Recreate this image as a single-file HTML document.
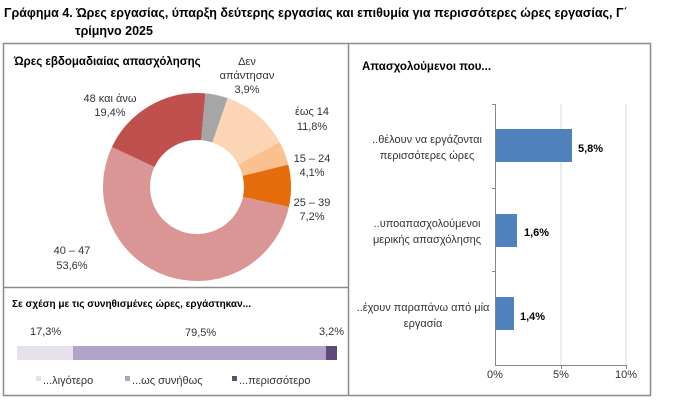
<!DOCTYPE html>
<html><head><meta charset="utf-8"><style>
body{margin:0;background:#fff;width:682px;height:413px;overflow:hidden;font-family:"Liberation Sans","DejaVu Sans",sans-serif;}
svg text{font-family:"Liberation Sans","DejaVu Sans",sans-serif;}
</style></head><body>
<svg width="682" height="413" viewBox="0 0 682 413" xmlns="http://www.w3.org/2000/svg">
<text x="4" y="17" font-size="12.5" font-weight="bold" fill="#000">Γράφημα 4. Ώρες εργασίας, ύπαρξη δεύτερης εργασίας και επιθυμία για περισσότερες ώρες εργασίας, Γ΄</text>
<text x="75" y="35" font-size="12.5" font-weight="bold" fill="#000">τρίμηνο 2025</text>
<rect x="3.5" y="43.5" width="647" height="352" fill="none" stroke="#8c8c8c" stroke-width="1.5"/>
<line x1="348.5" y1="43" x2="348.5" y2="396" stroke="#8c8c8c" stroke-width="1.5"/>
<line x1="3" y1="287.5" x2="348" y2="287.5" stroke="#8c8c8c" stroke-width="1.5"/>
<text x="14" y="65" font-size="11.5" font-weight="bold">Ώρες εβδομαδιαίας απασχόλησης</text>
<g transform="rotate(-71 197 187)" fill="none" stroke-width="47">
<circle cx="197" cy="187" r="70.5" stroke="#fcd5b5" stroke-dasharray="52.27 500" stroke-dashoffset="0"/>
<circle cx="197" cy="187" r="70.5" stroke="#fac090" stroke-dasharray="18.16 500" stroke-dashoffset="-52.27"/>
<circle cx="197" cy="187" r="70.5" stroke="#e46c0a" stroke-dasharray="31.89 500" stroke-dashoffset="-70.43"/>
<circle cx="197" cy="187" r="70.5" stroke="#d99694" stroke-dasharray="237.43 500" stroke-dashoffset="-102.32"/>
<circle cx="197" cy="187" r="70.5" stroke="#c0504d" stroke-dasharray="85.94 500" stroke-dashoffset="-339.75"/>
<circle cx="197" cy="187" r="70.5" stroke="#a6a6a6" stroke-dasharray="17.28 500" stroke-dashoffset="-425.69"/>
</g>
<g font-size="11" fill="#333" text-anchor="middle">
<text x="247" y="65">Δεν</text><text x="247" y="79">απάντησαν</text><text x="247" y="93">3,9%</text>
<text x="110" y="102">48 και άνω</text><text x="110" y="116">19,4%</text>
<text x="312" y="115">έως 14</text><text x="312" y="130">11,8%</text>
<text x="312" y="162">15 – 24</text><text x="312" y="176">4,1%</text>
<text x="312" y="206">25 – 39</text><text x="312" y="220">7,2%</text>
<text x="72" y="254">40 – 47</text><text x="72" y="269">53,6%</text>
</g>
<text x="12" y="307" font-size="10" font-weight="bold">Σε σχέση με τις συνηθισμένες ώρες, εργάστηκαν...</text>
<g font-size="11" fill="#333">
<text x="30" y="335">17,3%</text><text x="185" y="336">79,5%</text><text x="319" y="335">3,2%</text>
</g>
<rect x="17" y="346" width="56" height="14" fill="#e6e0ec"/>
<rect x="73" y="346" width="253" height="14" fill="#b3a2c7"/>
<rect x="326" y="346" width="11" height="14" fill="#604a7b"/>
<g font-size="11" fill="#333">
<rect x="36" y="376" width="5" height="5" fill="#e6e0ec"/><text x="43" y="384">...λιγότερο</text>
<rect x="125" y="376" width="5" height="5" fill="#b3a2c7"/><text x="132" y="384">...ως συνήθως</text>
<rect x="232" y="376" width="5" height="5" fill="#604a7b"/><text x="239" y="384">...περισσότερο</text>
</g>
<text x="362" y="70" font-size="11.5" font-weight="bold">Απασχολούμενοι που...</text>
<line x1="561" y1="104" x2="561" y2="365" stroke="#d9d9d9"/>
<line x1="626" y1="104" x2="626" y2="365" stroke="#d9d9d9"/>
<line x1="495.5" y1="104" x2="495.5" y2="365" stroke="#868686"/>
<line x1="492" y1="104.5" x2="496" y2="104.5" stroke="#868686"/>
<line x1="492" y1="188.5" x2="496" y2="188.5" stroke="#868686"/>
<line x1="492" y1="271.5" x2="496" y2="271.5" stroke="#868686"/>
<line x1="495" y1="365.5" x2="627" y2="365.5" stroke="#868686"/>
<line x1="561.5" y1="365" x2="561.5" y2="369" stroke="#868686"/>
<line x1="626.5" y1="365" x2="626.5" y2="369" stroke="#868686"/>
<rect x="496" y="129" width="76" height="33" fill="#4f81bd"/>
<rect x="496" y="214" width="21" height="33" fill="#4f81bd"/>
<rect x="496" y="297" width="18" height="33" fill="#4f81bd"/>
<g font-size="11" font-weight="bold" fill="#000">
<text x="578" y="152">5,8%</text><text x="524" y="236">1,6%</text><text x="520" y="320">1,4%</text>
</g>
<g font-size="11" fill="#333" text-anchor="middle">
<text x="427" y="143">..θέλουν να εργάζονται</text><text x="427" y="159">περισσότερες ώρες</text>
<text x="427" y="227">..υποαπασχολούμενοι</text><text x="427" y="243">μερικής απασχόλησης</text>
<text x="423" y="311">..έχουν παραπάνω από μία</text><text x="423" y="327">εργασία</text>
<text x="495" y="378">0%</text><text x="561" y="378">5%</text><text x="626" y="378">10%</text>
</g>
</svg>
</body></html>
